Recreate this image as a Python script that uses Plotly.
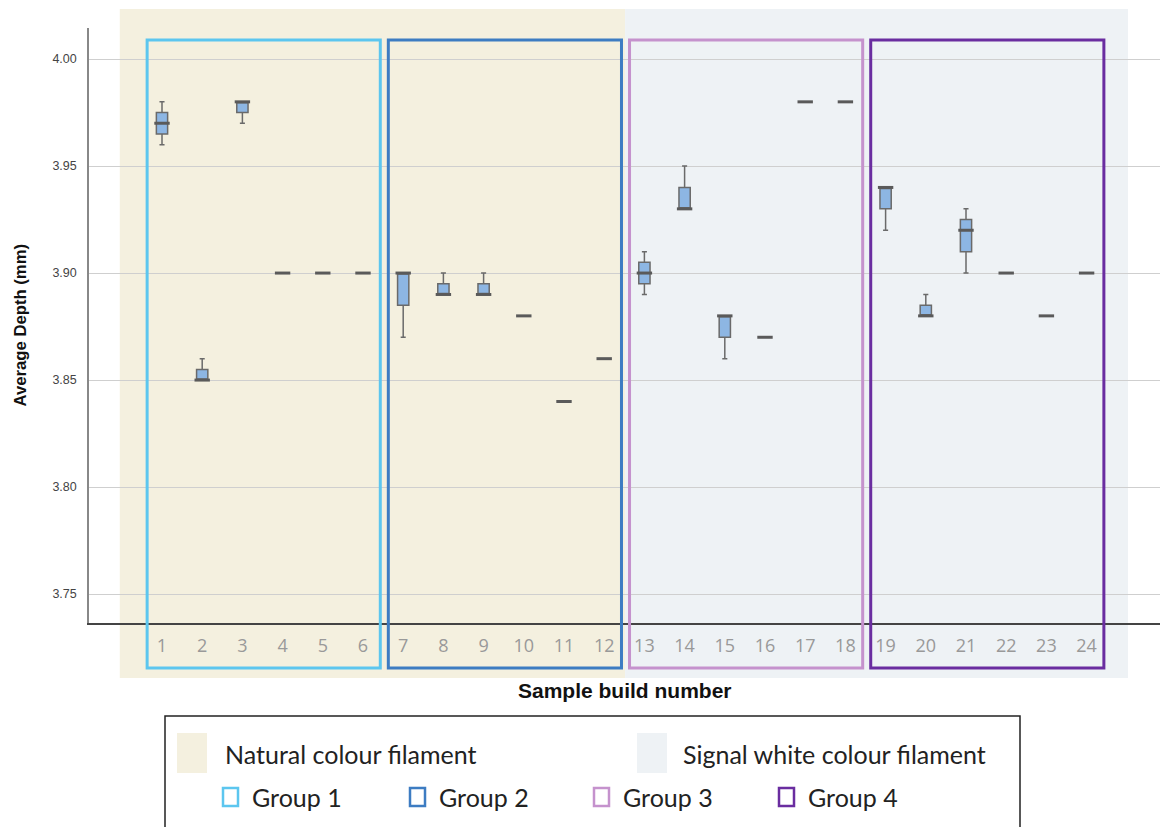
import plotly.graph_objects as go

samples = list(range(1, 25))
lower = [3.96, 3.85, 3.97, 3.90, 3.90, 3.90, 3.87, 3.89, 3.89, 3.88, 3.84, 3.86,
         3.89, 3.93, 3.86, 3.87, 3.98, 3.98, 3.92, 3.88, 3.90, 3.90, 3.88, 3.90]
q1 = [3.965, 3.85, 3.975, 3.90, 3.90, 3.90, 3.885, 3.89, 3.89, 3.88, 3.84, 3.86,
      3.895, 3.93, 3.87, 3.87, 3.98, 3.98, 3.93, 3.88, 3.91, 3.90, 3.88, 3.90]
median = [3.97, 3.85, 3.98, 3.90, 3.90, 3.90, 3.90, 3.89, 3.89, 3.88, 3.84, 3.86,
          3.90, 3.93, 3.88, 3.87, 3.98, 3.98, 3.94, 3.88, 3.92, 3.90, 3.88, 3.90]
q3 = [3.975, 3.855, 3.98, 3.90, 3.90, 3.90, 3.90, 3.895, 3.895, 3.88, 3.84, 3.86,
      3.905, 3.94, 3.88, 3.87, 3.98, 3.98, 3.94, 3.885, 3.925, 3.90, 3.88, 3.90]
upper = [3.98, 3.86, 3.98, 3.90, 3.90, 3.90, 3.90, 3.90, 3.90, 3.88, 3.84, 3.86,
         3.91, 3.95, 3.88, 3.87, 3.98, 3.98, 3.94, 3.89, 3.93, 3.90, 3.88, 3.90]

groups = ["Group 1", "Group 2", "Group 3", "Group 4"]
group_members = [(1, 6), (7, 12), (13, 18), (19, 24)]
group_colors = ["#5cc6ef", "#3d7cc2", "#c592cd", "#6a2da0"]
filaments = ["Natural colour filament", "Signal white colour filament"]
filament_colors = ["#f4f0df", "#eef2f5"]
filament_span = [(-0.05, 12.52), (12.52, 25.03)]

OFF = 8  # page body margin
X_RANGE = [-0.816, 25.826]
Y_RANGE = [3.7365, 4.0145]
W, H = 1168 - OFF, 827 - OFF
L, T = 89 - OFF, 28 - OFF
R = 1168 - 1160
B = 827 - 623
PW = W - L - R
PH = H - T - B


def xp(v):
    return (v - X_RANGE[0]) / (X_RANGE[1] - X_RANGE[0])


def pxx(px):
    return (px - OFF - L) / PW


def pxy(py):
    return (H - B - (py - OFF)) / PH


fig = go.Figure()
fig.add_trace(go.Box(
    x=samples, q1=q1, median=median, q3=q3, lowerfence=lower, upperfence=upper,
    width=0.28, whiskerwidth=0.45,
    fillcolor="#8db6e3", line=dict(color="#6a6a6a", width=1.5),
    boxpoints=False, showlegend=False, hoverinfo="skip",
))
fig.add_trace(go.Scatter(
    x=samples, y=median, mode="markers",
    marker=dict(symbol="line-ew", size=11, line=dict(color="#5a5a5a", width=3)),
    showlegend=False, hoverinfo="skip",
))

shapes = []
# filament background shading
for (a, b), c in zip(filament_span, filament_colors):
    shapes.append(dict(type="rect", xref="paper", yref="paper",
                       x0=xp(a), x1=xp(b), y0=pxy(678), y1=pxy(9),
                       fillcolor=c, line=dict(width=0), layer="below"))
# group outlines
for (s, e), c in zip(group_members, group_colors):
    shapes.append(dict(type="rect", xref="paper", yref="paper",
                       x0=xp(s - 0.37), x1=xp(e + 0.43), y0=pxy(668), y1=pxy(40),
                       fillcolor="rgba(0,0,0,0)", line=dict(color=c, width=3),
                       layer="above"))
# legend box
shapes.append(dict(type="rect", xref="paper", yref="paper",
                   x0=pxx(165), x1=pxx(1020), y0=pxy(840), y1=pxy(716),
                   fillcolor="white", line=dict(color="#222", width=1.5), layer="above"))

annotations = []
# filament legend
for (sx, tx), c, name in zip([(177, 223), (637, 681)], filament_colors, filaments):
    shapes.append(dict(type="rect", xref="paper", yref="paper",
                       x0=pxx(sx), x1=pxx(sx + 30), y0=pxy(773), y1=pxy(733),
                       fillcolor=c, line=dict(width=0), layer="above"))
    annotations.append(dict(xref="paper", yref="paper", x=pxx(tx), y=pxy(754),
                            text=name, showarrow=False, xanchor="left", yanchor="middle",
                            font=dict(family="Lato", size=25, color="#222")))
# group legend
for sx, c, name in zip([223, 410, 594, 779], group_colors, groups):
    shapes.append(dict(type="rect", xref="paper", yref="paper",
                       x0=pxx(sx), x1=pxx(sx + 15), y0=pxy(806), y1=pxy(788),
                       fillcolor="white", line=dict(color=c, width=2.5), layer="above"))
    annotations.append(dict(xref="paper", yref="paper", x=pxx(sx + 27), y=pxy(797),
                            text=name, showarrow=False, xanchor="left", yanchor="middle",
                            font=dict(family="Lato", size=25, color="#222")))
# axis titles
annotations.append(dict(xref="paper", yref="paper", x=0.5, y=pxy(690),
                        text="<b>Sample build number</b>", showarrow=False,
                        xanchor="center", yanchor="middle",
                        font=dict(family="Liberation Sans", size=21, color="#111")))
annotations.append(dict(xref="paper", yref="paper", x=pxx(20), y=0.5,
                        text="<b>Average Depth (mm)</b>", showarrow=False, textangle=-90,
                        xanchor="center", yanchor="middle",
                        font=dict(family="Liberation Sans", size=16.7, color="#111")))

fig.update_layout(
    width=W, height=H,
    margin=dict(l=L, r=R, t=T, b=B),
    paper_bgcolor="white", plot_bgcolor="rgba(0,0,0,0)",
    shapes=shapes, annotations=annotations, showlegend=False,
    font=dict(family="Liberation Sans"),
)
fig.update_xaxes(
    range=X_RANGE, tickvals=samples, ticktext=[str(s) for s in samples],
    showgrid=False, zeroline=False, showline=True, linecolor="#444", linewidth=1.5,
    ticks="", ticklabelstandoff=6,
    tickfont=dict(family="Open Sans", size=18, color="#999"),
)
fig.update_yaxes(
    range=Y_RANGE, tickvals=[3.75, 3.80, 3.85, 3.90, 3.95, 4.00],
    ticktext=["3.75", "3.80", "3.85", "3.90", "3.95", "4.00"],
    showgrid=True, gridcolor="#cfcfcf", gridwidth=1, zeroline=False,
    showline=True, linecolor="#888", linewidth=1.5, ticks="",
    ticklabelstandoff=8,
    tickfont=dict(family="Liberation Sans", size=12.5, color="#444"),
)

fig.write_html("out.html")
